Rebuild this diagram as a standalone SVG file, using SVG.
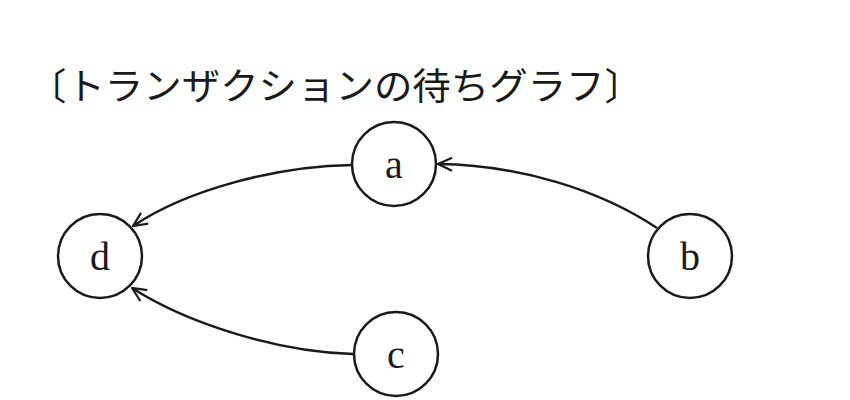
<svg xmlns="http://www.w3.org/2000/svg" width="850" height="400" viewBox="0 0 850 400">
<defs>
<style>
.node circle{fill:#fff;stroke:#1a1a1a;stroke-width:2.5}
.node text{font-family:"Liberation Serif",serif;font-size:40px;fill:#1a1a1a;text-anchor:middle}
.edge{fill:none;stroke:#1a1a1a;stroke-width:2.5;marker-end:url(#arr)}
.title{font-family:"Noto Sans CJK JP",sans-serif;font-size:37px;fill:#1a1a1a}
</style>
<marker id="arr" viewBox="0 0 16 16" refX="15" refY="8" markerWidth="16" markerHeight="16" markerUnits="userSpaceOnUse" orient="auto">
<path d="M1,1.5 L15,8 L1,14.5" fill="none" stroke="#1a1a1a" stroke-width="2.2"/>
</marker>
</defs>
<rect width="850" height="400" fill="#fff"/>
<text class="title" x="28" y="100" textLength="615" lengthAdjust="spacingAndGlyphs">〔トランザクションの待ちグラフ〕</text>
<g id="connectors">
<path class="edge" d="M352,165 C280,166 190,188 133,226"/>
<path class="edge" d="M353,354 C280,352 190,325 132,288"/>
<path class="edge" d="M657,228 C600,190 520,165 438,164"/>
</g>
<g id="node-a" class="node"><circle cx="394" cy="164" r="42"/><text x="394" y="178">a</text></g>
<g id="node-b" class="node"><circle cx="690" cy="256" r="42"/><text x="690" y="270">b</text></g>
<g id="node-c" class="node"><circle cx="396" cy="354" r="42"/><text x="396" y="368">c</text></g>
<g id="node-d" class="node"><circle cx="100" cy="256" r="42"/><text x="100" y="270">d</text></g>
</svg>
